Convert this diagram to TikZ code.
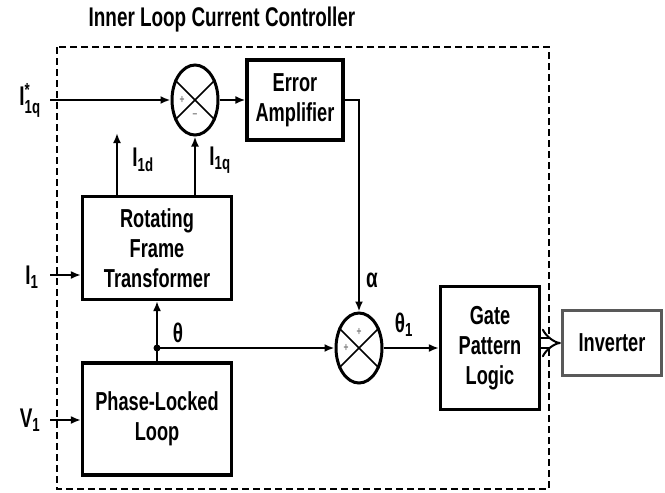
\documentclass[tikz,border=0pt]{standalone}
\usepackage{amsmath}
\usepackage{fontspec}
\setmainfont{Liberation Sans}[FakeStretch=0.7]
\usetikzlibrary{arrows.meta,shapes.geometric}

\begin{document}
\begin{tikzpicture}[
    x=1pt, y=-1pt,
    blockbox/.style={
        draw, line width=3.2pt, inner sep=0pt, align=center,
        font=\fontsize{26}{30}\selectfont\bfseries
    },
    sumnode/.style={
        ellipse, draw, line width=3pt, inner sep=0pt,
        minimum width=46pt, minimum height=70pt
    },
    signlabel/.style={
        font=\fontsize{12}{12}\selectfont\bfseries, text=gray, inner sep=0pt
    },
    siglabel/.style={
        font=\fontsize{27}{27}\selectfont\bfseries, inner sep=0pt
    },
    sigline/.style={
        line width=2.8pt, -{Latex[length=10pt,width=8pt]}
    }
]
\useasboundingbox (0,0) rectangle (665,493);

% Controller frame and title
\draw[line width=2pt, dash pattern=on 7pt off 4pt] (57,47) rectangle (549,489);
\node[font=\fontsize{27}{27}\selectfont\bfseries] (title) at (222,20) {Inner Loop Current Controller};

% Blocks
\node[blockbox, minimum width=96pt, minimum height=80pt]   (ea)  at (295,100) {Error\\Amplifier};
\node[blockbox, minimum width=149pt, minimum height=103pt] (rft) at (157,248) {Rotating\\Frame\\Transformer};
\node[blockbox, minimum width=149pt, minimum height=112pt] (pll) at (157,419) {Phase-Locked\\Loop};
\node[blockbox, minimum width=99pt, minimum height=123pt]  (gpl) at (490,348) {Gate\\Pattern\\Logic};
\node[blockbox, draw=gray!70!black, minimum width=99pt, minimum height=65pt] (inv) at (612,343) {Inverter};

% Summing junctions
\node[sumnode] (s1) at (195,100) {};
\node[sumnode] (s2) at (359,348) {};
\foreach \s in {s1,s2} {
    \draw[line width=1.6pt] (\s.45) -- (\s.225);
    \draw[line width=1.6pt] (\s.135) -- (\s.315);
}
\node[signlabel] (s1a) at ([xshift=-13pt]s1.center) {+};
\node[signlabel] (s1b) at ([yshift=-16pt]s1.center) {--};
\node[signlabel] (s2a) at ([yshift=16pt]s2.center) {+};
\node[signlabel] (s2b) at ([xshift=-13pt]s2.center) {+};

% Inputs
\node[siglabel] (iq)  at (30,100) {I$^{\text{*}}_{\text{1q}}$};
\node[siglabel] (i1)  at (32,277) {I$_{\text{1}}$};
\node[siglabel] (v1)  at (30,420) {V$_{\text{1}}$};
\coordinate (iqin) at (50,100);
\coordinate (i1in) at (50,275);
\coordinate (v1in) at (50,420);
\draw[sigline] (iqin) -- (s1.west);
\draw[sigline] (i1in) -- (rft.west |- i1in);
\draw[sigline] (v1in) -- (pll.west |- v1in);

% Forward path
\draw[sigline] (s1.east) -- (ea.west);
\draw[sigline] (ea.east) -| (s2.north);
\node[siglabel] (alpha) at (372,280) {α};

% Transformer outputs
\coordinate (idtop) at (117,133);
\draw[sigline] (idtop |- rft.north) -- (idtop);
\node[siglabel] (idl) at (143,160) {I$_{\text{1d}}$};
\draw[sigline] (s1.south |- rft.north) -- (s1.south);
\node[siglabel] (iql) at (220,160) {I$_{\text{1q}}$};

% Angle from the phase-locked loop
\coordinate (junc) at (pll.north |- s2.west);
\draw[line width=2.8pt] (pll.north) -- (junc);
\draw[sigline] (junc) -- (rft.south);
\draw[sigline] (junc) -- (s2.west);
\fill (junc) circle (3.5pt);
\node[siglabel] (th) at (178,333) {θ};

% Firing angle and gate signals
\draw[sigline] (s2.east) -- (gpl.west |- s2.east);
\node[siglabel] (th1) at (404,325) {θ$_{\text{1}}$};
\draw[line width=2pt, double, double distance=8pt, -{Implies}] (gpl.east |- inv.west) -- (inv.west);

\end{tikzpicture}
\end{document}
